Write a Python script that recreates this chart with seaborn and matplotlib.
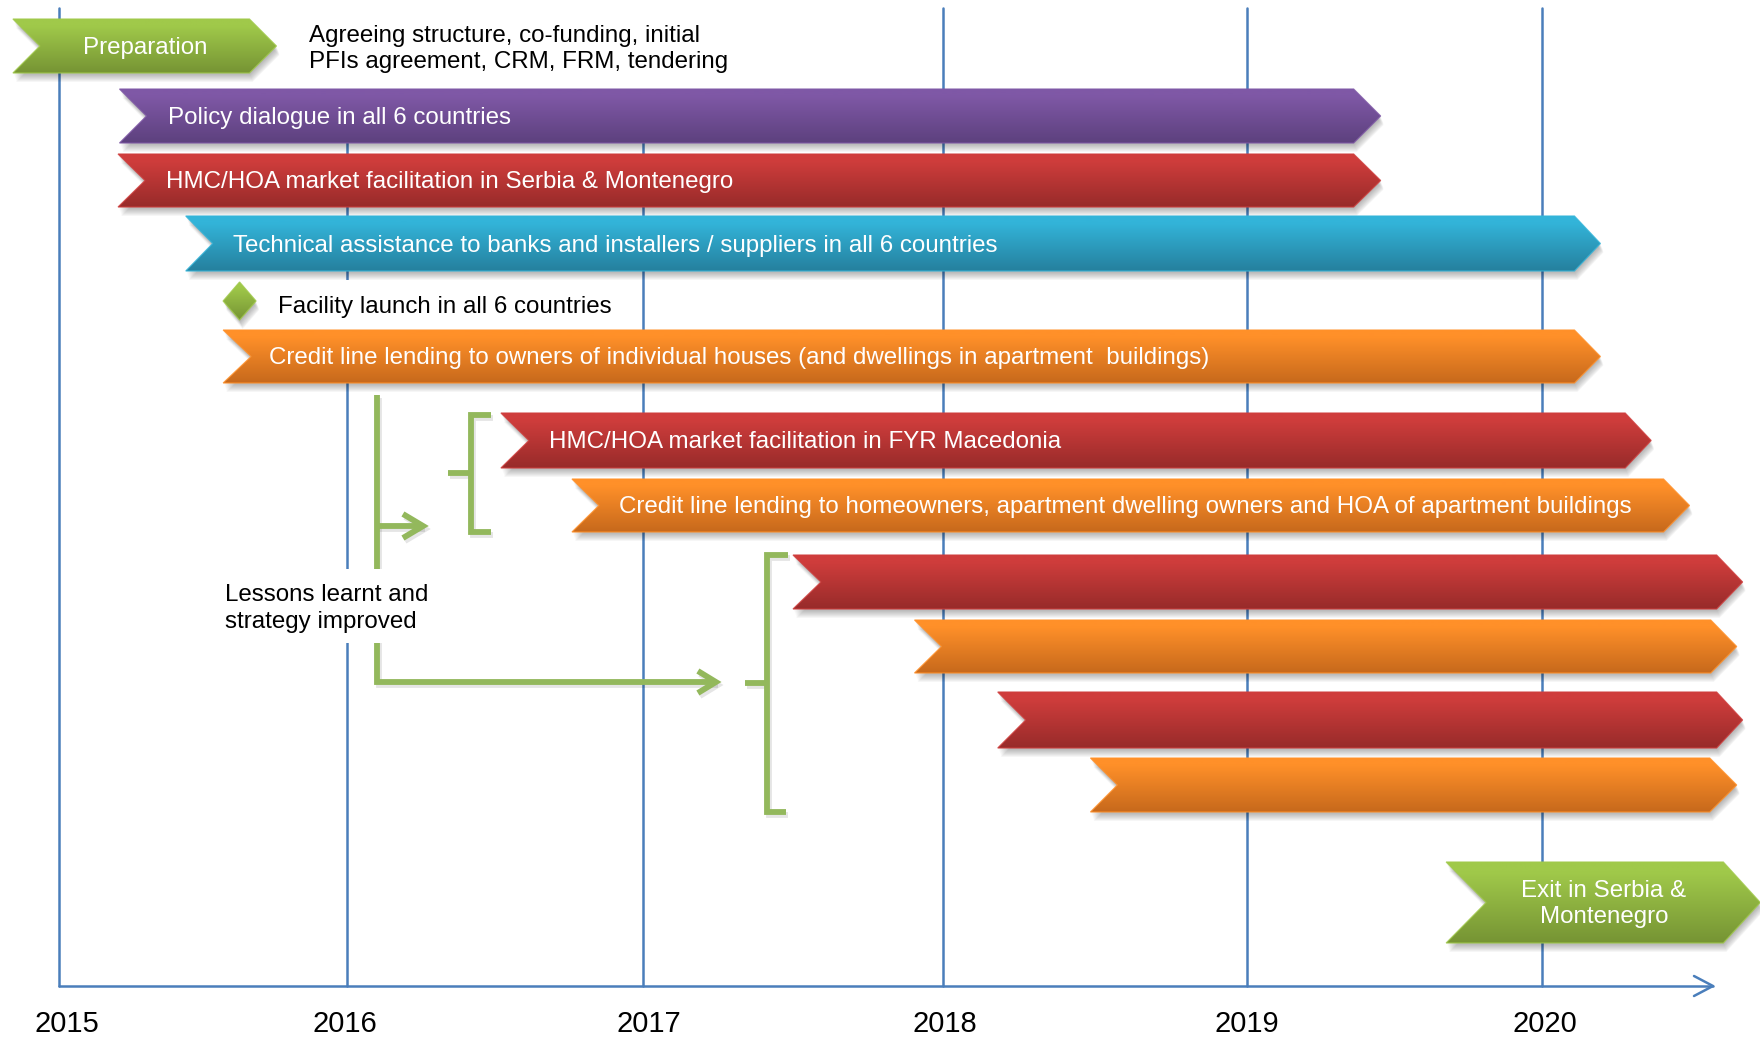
import numpy as np
import pandas as pd
import matplotlib
matplotlib.use("Agg")
import matplotlib.pyplot as plt
from matplotlib.patches import Polygon, Rectangle
from matplotlib.transforms import Affine2D
import seaborn as sns

# Activity timeline: calendar years on x, each bar spans start to end year
YEARS = [2015, 2016, 2017, 2018, 2019, 2020]
activity_labels = [
    "Preparation",
    "Policy dialogue in all 6 countries",
    "HMC/HOA market facilitation in Serbia & Montenegro",
    "Technical assistance to banks and installers / suppliers in all 6 countries",
    "Credit line lending to owners of individual houses (and dwellings in apartment  buildings)",
    "HMC/HOA market facilitation in FYR Macedonia",
    "Credit line lending to homeowners, apartment dwelling owners and HOA of apartment buildings",
    "",
    "",
    "",
    "",
    "Exit in Serbia &\nMontenegro",
]
activity_start = [2014.84, 2015.21, 2015.205, 2015.44, 2015.57, 2016.52, 2016.76,
                  2017.50, 2017.905, 2018.18, 2018.485, 2019.675]
activity_end = [2015.755, 2019.453, 2019.453, 2020.198, 2020.198, 2020.37, 2020.50,
                2020.68, 2020.66, 2020.68, 2020.66, 2020.74]
activity_kind = ["prep", "policy", "market", "assist", "credit", "market", "credit",
                 "market", "credit", "market", "credit", "prep"]
facility_launch = 2015.627

# Calendar spacing on the printed axis is slightly uneven
scale_years = [2014, 2015, 2016, 2017, 2018, 2019, 2020, 2021]
scale_pos = [-229, 59, 347, 643, 943, 1247, 1542, 1837]

# Vertical bands of each row and shape of its chevron ends
row_top = [19, 89, 154, 216, 330, 413, 479, 555, 620, 692, 758, 862]
row_bottom = [73, 143, 207, 271, 383, 468, 532, 609, 673, 748, 812, 943]
row_notch = [27, 27, 27, 27, 28, 28, 27, 28, 27, 28, 27, 40]
row_tip = [27, 27, 27, 26, 26, 26, 26, 26, 26, 26, 27, 37]
label_x = [145, 168, 166, 233, 269, 549, 619, 0, 0, 0, 0, 1604]
label_y = [48, 118, 182, 246, 358, 442, 507, 0, 0, 0, 0, 904]

GRADIENTS = {
    "prep": ("#a0c94a", "#769434"),
    "policy": ("#7f58a6", "#5d417e"),
    "market": ("#cf3d3c", "#982b2a"),
    "assist": ("#33b4d9", "#25809e"),
    "credit": ("#ff9029", "#c7691c"),
}
LINE_BLUE = "#4a7ebb"
ARROW_GREEN = "#93b85c"
W, H = 1760, 1039

sns.set_theme(style="white")
plt.rcParams["font.family"] = ["Liberation Sans", "DejaVu Sans"]

fig = plt.figure(figsize=(W / 100, H / 100), dpi=100, facecolor="white")
ax = fig.add_axes([0, 0, 1, 1])


def to_pos(v):
    return np.interp(v, scale_years, scale_pos)


def to_year(p):
    return np.interp(p, scale_pos, scale_years)


ax.set_xscale("function", functions=(to_pos, to_year))
ax.set_xlim(to_year(0), to_year(W))
ax.set_ylim(H, 0)
ax.autoscale(False)
ax.axis("off")

px = Affine2D().scale(1, -1).translate(0, H)


def x_of(year):
    return ax.transData.transform((year, 0))[0]


# Year lines and the time axis
seg_id, seg_x, seg_y = [], [], []
line_tops = [8, 100, 100, 8, 8, 8]
for i, (yr, top) in enumerate(zip(YEARS, line_tops)):
    seg_id += [i, i]
    seg_x += [yr, yr]
    seg_y += [top, 986]
axis_end = to_year(1713)
head_back = to_year(1694)
for k, (xs, ys) in enumerate([
    ([2015, axis_end], [986, 986]),
    ([head_back, axis_end, head_back], [976, 986, 996]),
]):
    seg_id += [10 + k] * len(xs)
    seg_x += list(xs)
    seg_y += list(ys)
frame = pd.DataFrame({"seg": seg_id, "year": seg_x, "level": seg_y})
sns.lineplot(data=frame, x="year", y="level", units="seg", estimator=None, sort=False,
             color=LINE_BLUE, linewidth=1.8, legend=False, ax=ax, zorder=1)
ax.set_xlim(to_year(0), to_year(W))
ax.set_ylim(H, 0)


def gradient(top, bottom, n=64):
    c0 = np.array(matplotlib.colors.to_rgb(top))
    c1 = np.array(matplotlib.colors.to_rgb(bottom))
    t = np.clip((np.linspace(0, 1, n) - 0.12) / 0.88, 0, 1)
    return (c0[None, :] * (1 - t[:, None]) + c1[None, :] * t[:, None])[:, None, :]


def filled_shape(verts, kind, zorder=6):
    verts = np.asarray(verts, float)
    for d in range(1, 10):
        ax.add_patch(Polygon(verts + [min(d * 0.4, 3), d], closed=True, facecolor="black",
                             edgecolor="none", alpha=0.035, transform=px, zorder=zorder - 1))
    top, bottom = GRADIENTS[kind]
    l, r = verts[:, 0].min(), verts[:, 0].max()
    t, b = verts[:, 1].min(), verts[:, 1].max()
    im = ax.imshow(gradient(top, bottom), extent=(l, r, b, t), origin="upper", aspect="auto",
                   interpolation="bilinear", transform=px, zorder=zorder)
    im.set_clip_path(Polygon(verts, closed=True, transform=px))
    ax.add_patch(Polygon(verts, closed=True, fill=False, edgecolor=top, linewidth=0.9,
                         alpha=0.8, transform=px, zorder=zorder + 0.1))


# White boxes from the text blocks interrupt the lines underneath
for (bx, by, bw, bh) in [(262, 280, 378, 50), (224, 569, 206, 74)]:
    ax.add_patch(Rectangle((bx, by), bw, bh, facecolor="white", edgecolor="none",
                           transform=px, zorder=3))

# Green connectors: the lessons-learnt feed and its two brackets
connectors = [
    ([2016.101, 2016.101, 2017.243], [395, 682, 682]),
    ([2016.101, 2016.257], [526, 526]),
    ([2016.189, 2016.257, 2016.189], [514, 526, 538]),
    ([2017.183, 2017.243, 2017.183], [671, 682, 693]),
    ([2016.486, 2016.419, 2016.419, 2016.486], [415, 415, 532, 532]),
    ([2016.341, 2016.419], [473, 473]),
    ([2017.483, 2017.413, 2017.413, 2017.477], [555, 555, 812, 812]),
    ([2017.340, 2017.413], [683, 683]),
]
for xs, ys in connectors:
    px_x = [x_of(v) for v in xs]
    ax.plot(np.array(px_x) + 2, np.array(ys) + 3, color="black", alpha=0.10, linewidth=4.2,
            solid_capstyle="butt", solid_joinstyle="miter", transform=px, zorder=2)
    ax.plot(xs, ys, color=ARROW_GREEN, linewidth=4.2, solid_capstyle="butt",
            solid_joinstyle="miter", zorder=2.5)

# Activity bars
for start, end, kind, t, b, notch, tip in zip(
    activity_start, activity_end, activity_kind, row_top, row_bottom, row_notch, row_tip,
):
    left, right = x_of(start), x_of(end)
    mid = (t + b) / 2
    filled_shape([(left, t), (right - tip, t), (right, mid), (right - tip, b),
                  (left, b), (left + notch, mid)], kind)

# Facility launch milestone
cx = x_of(facility_launch)
filled_shape([(cx - 16.5, 301), (cx, 282), (cx + 16.5, 301), (cx, 320)], "prep")

# Labels
TXT = 17.4
SPACING = 1.27
for name, lx, ly in zip(activity_labels, label_x, label_y):
    if not name:
        continue
    centred = name == "Preparation" or "\n" in name
    ax.text(lx, ly, name, color="white", fontsize=TXT, linespacing=SPACING,
            ha="center" if centred else "left", va="center", transform=px, zorder=8)

ax.text(309, 49, "Agreeing structure, co-funding, initial\nPFIs agreement, CRM, FRM, tendering",
        color="black", fontsize=TXT, linespacing=SPACING, ha="left", va="center",
        transform=px, zorder=8)
ax.text(278, 307, "Facility launch in all 6 countries", color="black", fontsize=TXT,
        ha="left", va="center", transform=px, zorder=8)
ax.text(225, 608.5, "Lessons learnt and\nstrategy improved", color="black", fontsize=TXT,
        linespacing=SPACING, ha="left", va="center", transform=px, zorder=8)

for yr, lx in zip(YEARS, [67, 345, 649, 945, 1247, 1545]):
    ax.text(lx, 1024, str(yr), color="black", fontsize=21, ha="center", va="center",
            transform=px, zorder=8)

fig.savefig("out.png", dpi=100, facecolor="white")
